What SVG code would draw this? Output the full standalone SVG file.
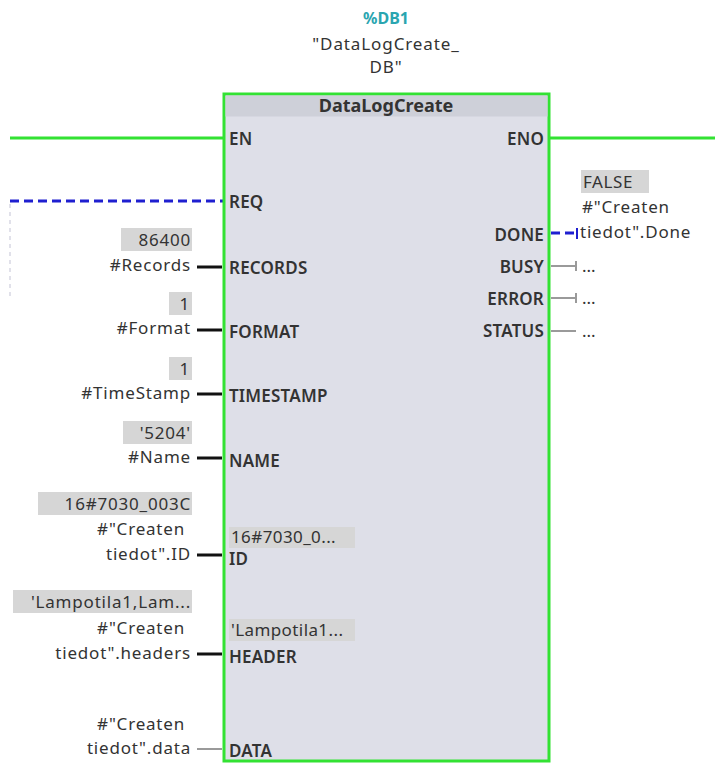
<svg xmlns="http://www.w3.org/2000/svg" width="715" height="763" viewBox="0 0 715 763">
<style>
text{font-family:"Noto Sans","DejaVu Sans",sans-serif;fill:#333;font-size:17px}
.pin{font-weight:600;font-size:17px;letter-spacing:0.2px}
.lbl{text-anchor:end;letter-spacing:0.8px}
.val{fill:#d6d6d6}
.wire{stroke:#111;stroke-width:3}
.gray{stroke:#9a9a9a;stroke-width:2;fill:none}
.blue{stroke:#1f1fd0;stroke-width:3;stroke-dasharray:9,5;fill:none}
.green{stroke:#33e233;stroke-width:3;fill:none}
</style>
<rect width="715" height="763" fill="#fff"/>
<g id="header">
<text x="386" y="24" text-anchor="middle" style="fill:#2aa5b0;font-weight:700;font-size:16px">%DB1</text>
<text x="386" y="50" text-anchor="middle" style="letter-spacing:0.9px">"DataLogCreate_</text>
<text x="386" y="73" text-anchor="middle" style="letter-spacing:0.9px">DB"</text>
</g>
<g id="connectors">
<line class="green" x1="10" y1="138" x2="224" y2="138"/>
<line class="green" x1="549" y1="138" x2="715" y2="138"/>
<line class="blue" x1="10" y1="201" x2="224" y2="201"/>
<line x1="10" y1="204" x2="10" y2="300" stroke="#d8d8e4" stroke-width="1.5" stroke-dasharray="4,4"/>
<line class="wire" x1="197" y1="267" x2="222" y2="267"/>
<line class="wire" x1="197" y1="330" x2="222" y2="330"/>
<line class="wire" x1="197" y1="394" x2="222" y2="394"/>
<line class="wire" x1="197" y1="458" x2="222" y2="458"/>
<line class="wire" x1="197" y1="555" x2="222" y2="555"/>
<line class="wire" x1="197" y1="654" x2="222" y2="654"/>
<line class="gray" x1="197" y1="749" x2="222" y2="749" stroke-width="1.5"/>
<path class="blue" d="M551 233 H577" stroke-dasharray="7,4"/>
<line x1="577" y1="228" x2="577" y2="239" stroke="#1f1fd0" stroke-width="2"/>
<path class="gray" d="M551 266 H576 M576 261 V271 M551 298 H576 M576 293 V303 M551 331 H576"/>
</g>
<g id="block">
<rect x="224" y="94" width="325" height="667" fill="#dedfe8" stroke="#33e233" stroke-width="3"/>
<rect x="225.5" y="95.5" width="322" height="21" fill="#ced0d9"/>
<text x="386" y="112" text-anchor="middle" style="font-weight:700;font-size:18px">DataLogCreate</text>
<text class="pin" x="229" y="145">EN</text>
<text class="pin" x="229" y="208">REQ</text>
<text class="pin" x="229" y="274">RECORDS</text>
<text class="pin" x="229" y="338">FORMAT</text>
<text class="pin" x="229" y="402">TIMESTAMP</text>
<text class="pin" x="229" y="467">NAME</text>
<rect class="val" x="229" y="527" width="126" height="21"/>
<text x="231" y="543" style="letter-spacing:0.4px">16#7030_0...</text>
<text class="pin" x="229" y="565">ID</text>
<rect class="val" x="229" y="619" width="126" height="22"/>
<text x="231" y="636" style="letter-spacing:0.4px">'Lampotila1...</text>
<text class="pin" x="229" y="663">HEADER</text>
<text class="pin" x="229" y="757">DATA</text>
<text class="pin" x="544" y="145" text-anchor="end">ENO</text>
<text class="pin" x="544" y="241" text-anchor="end">DONE</text>
<text class="pin" x="544" y="273" text-anchor="end">BUSY</text>
<text class="pin" x="544" y="305" text-anchor="end">ERROR</text>
<text class="pin" x="544" y="337" text-anchor="end">STATUS</text>
</g>
<g id="in-records">
<rect class="val" x="121" y="228" width="71" height="23"/>
<text class="lbl" x="191" y="246">86400</text>
<text class="lbl" x="191" y="271">#Records</text>
</g>
<g id="in-format">
<rect class="val" x="169" y="292" width="23" height="23"/>
<text class="lbl" x="190" y="310">1</text>
<text class="lbl" x="191" y="334">#Format</text>
</g>
<g id="in-timestamp">
<rect class="val" x="169" y="357" width="23" height="23"/>
<text class="lbl" x="190" y="375">1</text>
<text class="lbl" x="191" y="399">#TimeStamp</text>
</g>
<g id="in-name">
<rect class="val" x="123" y="421" width="69" height="23"/>
<text class="lbl" x="191" y="439">'5204'</text>
<text class="lbl" x="191" y="463">#Name</text>
</g>
<g id="in-id">
<rect class="val" x="38" y="492" width="154" height="23"/>
<text class="lbl" x="191" y="510">16#7030_003C</text>
<text class="lbl" x="185" y="535">#"Createn</text>
<text class="lbl" x="191" y="560">tiedot".ID</text>
</g>
<g id="in-header">
<rect class="val" x="13" y="590" width="179" height="23"/>
<text class="lbl" x="191" y="608">'Lampotila1,Lam...</text>
<text class="lbl" x="185" y="634">#"Createn</text>
<text class="lbl" x="191" y="659">tiedot".headers</text>
</g>
<g id="in-data">
<text class="lbl" x="185" y="730">#"Createn</text>
<text class="lbl" x="191" y="754">tiedot".data</text>
</g>
<g id="out-done">
<rect class="val" x="581" y="170" width="68" height="23"/>
<text x="583" y="188" style="letter-spacing:0.6px">FALSE</text>
<text x="582" y="213" style="letter-spacing:0.8px">#"Createn</text>
<text x="580" y="238" style="letter-spacing:0.8px">tiedot".Done</text>
</g>
<g id="out-others">
<text x="582" y="272">...</text>
<text x="582" y="304">...</text>
<text x="582" y="337">...</text>
</g>
</svg>
